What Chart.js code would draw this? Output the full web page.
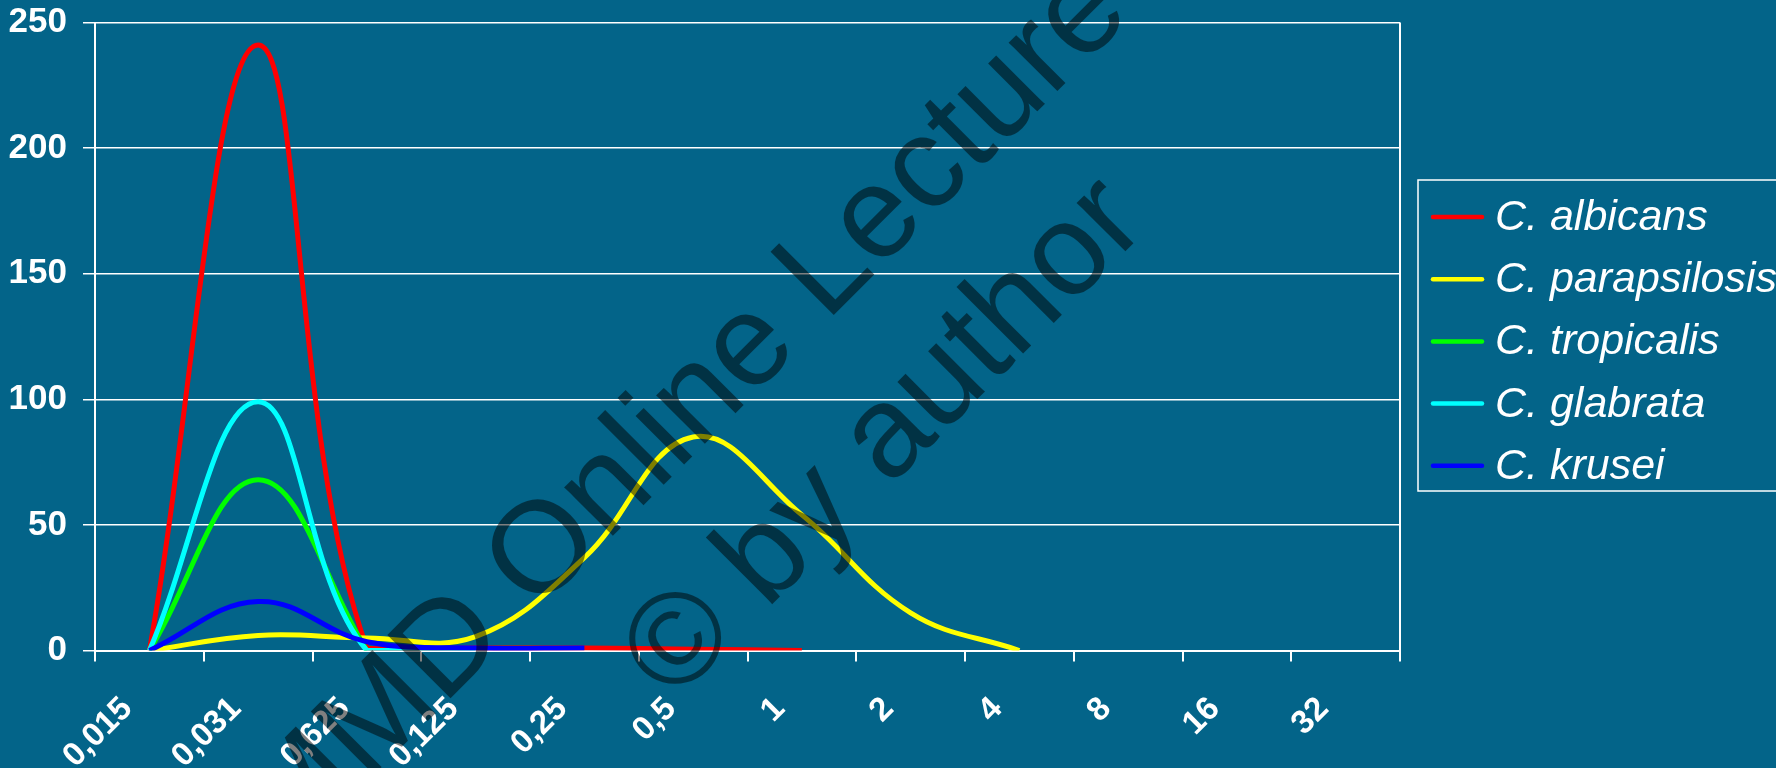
<!DOCTYPE html>
<html>
<head>
<meta charset="utf-8">
<title>MIC distribution</title>
<script src="https://cdn.jsdelivr.net/npm/chart.js@4/dist/chart.umd.min.js"></script>
<style>
  html, body { margin: 0; padding: 0; background: #036489; }
  #wrap { width: 1776px; height: 768px; }
</style>
</head>
<body>
<div id="wrap"><canvas id="c" width="1776" height="768"></canvas></div>
<script>
// MIC categories (mg/L)
const categories = ['0,015', '0,031', '0,625', '0,125', '0,25', '0,5', '1', '2', '4', '8', '16', '32'];

// Number of isolates per MIC
const seriesNames = ['C. albicans', 'C. parapsilosis', 'C. tropicalis', 'C. glabrata', 'C. krusei'];
const albicans     = [0, 241, 1, 1, 1, 0.5, 0];
const parapsilosis = [0, 6, 5, 5.5, 37, 85, 54, 15, 0];
const tropicalis   = [0, 68, 0];
const glabrata     = [0, 99, 0, 0];
const krusei       = [0, 19.5, 3.5, 1, 1];

const yTicks = [0, 50, 100, 150, 200, 250];

const seriesValues = [albicans, parapsilosis, tropicalis, glabrata, krusei];
const seriesColors = ['#ff0000', '#ffff00', '#00ff00', '#00ffff', '#0000ff'];

const FONT = '"Liberation Sans", Arial, Helvetica, sans-serif';
const BG = '#036489';

const background = {
  id: 'background',
  beforeDraw(chart) {
    const ctx = chart.ctx;
    ctx.save();
    ctx.fillStyle = BG;
    ctx.fillRect(0, 0, chart.width, chart.height);
    ctx.restore();
  }
};

// right edge of the plot frame
const plotFrame = {
  id: 'plotFrame',
  beforeDatasetsDraw(chart) {
    const { ctx, chartArea } = chart;
    ctx.save();
    ctx.strokeStyle = '#ffffff';
    ctx.lineWidth = 2;
    ctx.beginPath();
    ctx.moveTo(chartArea.right, chartArea.top);
    ctx.lineTo(chartArea.right, chartArea.bottom);
    ctx.stroke();
    ctx.restore();
  }
};

// boxed legend on the right
const boxedLegend = {
  id: 'boxedLegend',
  afterDraw(chart) {
    const ctx = chart.ctx;
    const x0 = 1418, y0 = 180, rowH = 62.2, firstRow = 217;
    ctx.save();
    ctx.strokeStyle = '#ffffff';
    ctx.lineWidth = 1.5;
    ctx.strokeRect(x0, y0, 420, 311);
    ctx.font = 'italic 43px ' + FONT;
    ctx.textBaseline = 'middle';
    ctx.textAlign = 'left';
    chart.data.datasets.forEach((ds, i) => {
      const y = firstRow + i * rowH;
      ctx.strokeStyle = ds.borderColor;
      ctx.lineWidth = 4.5;
      ctx.lineCap = 'round';
      ctx.beginPath();
      ctx.moveTo(1433, y);
      ctx.lineTo(1482, y);
      ctx.stroke();
      ctx.fillStyle = '#ffffff';
      ctx.fillText(ds.label, 1495, y + 1);
    });
    ctx.restore();
  }
};

// author notice laid over the chart
const notice = {
  id: 'notice',
  afterDraw(chart) {
    const ctx = chart.ctx;
    const lines = [
      { text: 'MMD Online Lecture', x: 686, y: 412 },
      { text: '\u00A9 by author', x: 886, y: 440 }
    ];
    lines.forEach(l => {
      ctx.save();
      ctx.fillStyle = 'rgba(0,0,0,0.5)';
      ctx.font = '130px ' + FONT;
      ctx.textAlign = 'center';
      ctx.textBaseline = 'middle';
      ctx.translate(l.x, l.y);
      ctx.rotate(-Math.PI / 4);
      ctx.fillText(l.text, 0, 0);
      ctx.restore();
    });
  }
};

const datasets = seriesNames.map((name, i) => ({
  label: name,
  data: seriesValues[i],
  borderColor: seriesColors[i],
  backgroundColor: seriesColors[i],
  borderWidth: 5,
  pointRadius: 0,
  tension: 0.4,
  fill: false,
  order: seriesNames.length - i
}));

new Chart(document.getElementById('c'), {
  type: 'line',
  data: { labels: categories, datasets },
  options: {
    responsive: false,
    devicePixelRatio: 1,
    animation: false,
    layout: { padding: { top: 22.5, right: 376, bottom: 0, left: 0 } },
    plugins: {
      legend: { display: false },
      tooltip: { enabled: false }
    },
    scales: {
      x: {
        type: 'category',
        offset: true,
        afterFit(scale) { scale.height = 117.5; },
        grid: {
          offset: true,
          drawOnChartArea: false,
          drawTicks: true,
          tickLength: 11,
          color: '#ffffff',
          lineWidth: 2
        },
        border: { display: true, color: '#ffffff', width: 2 },
        ticks: {
          autoSkip: false,
          minRotation: 45,
          maxRotation: 45,
          labelOffset: -22,
          padding: 28,
          color: '#ffffff',
          font: { family: FONT, size: 33, weight: 'bold' }
        }
      },
      y: {
        min: 0,
        max: 250,
        afterFit(scale) {
          scale.width = 95;
          scale.paddingTop = 0;
          scale.paddingBottom = 0;
        },
        afterBuildTicks(scale) { scale.ticks = yTicks.map(v => ({ value: v })); },
        grid: {
          color: '#ffffff',
          lineWidth: 1.5,
          drawTicks: true,
          tickLength: 12
        },
        border: { display: true, color: '#ffffff', width: 2 },
        ticks: {
          padding: 16,
          color: '#ffffff',
          font: { family: FONT, size: 35, weight: 'bold' }
        }
      }
    }
  },
  plugins: [background, plotFrame, boxedLegend, notice]
});
</script>
</body>
</html>
